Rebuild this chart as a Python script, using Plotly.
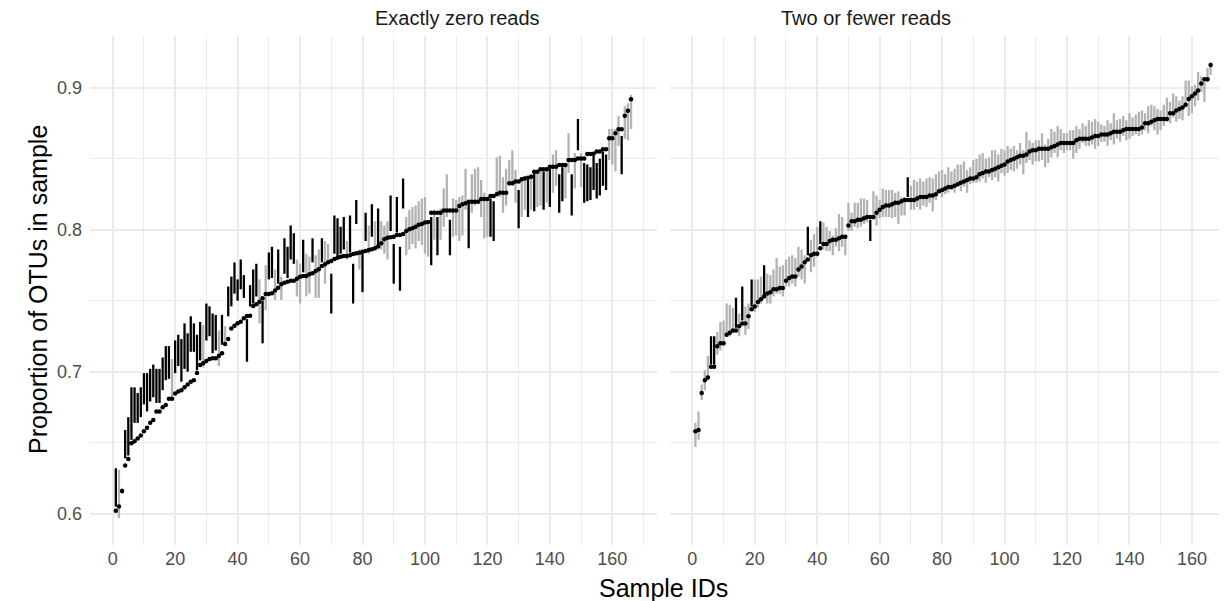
import plotly.graph_objects as go

sample_ids = list(range(1, 167))

panel_titles = ["Exactly zero reads", "Two or fewer reads"]

zero_point = [
    0.602, 0.605, 0.616, 0.634, 0.6385, 0.6496, 0.651, 0.653, 0.655, 0.658,
    0.6605, 0.664, 0.666, 0.672, 0.672, 0.675, 0.6765, 0.681, 0.681, 0.6846,
    0.686, 0.687, 0.689, 0.691, 0.693, 0.694, 0.699, 0.7047, 0.706, 0.7075,
    0.709, 0.7095, 0.7095, 0.711, 0.713, 0.7195, 0.723, 0.7305, 0.7324, 0.7341,
    0.7352, 0.7376, 0.7392, 0.7394, 0.7463, 0.7475, 0.7493, 0.7517, 0.7547, 0.7547,
    0.7552, 0.7571, 0.7592, 0.7615, 0.7627, 0.7634, 0.7641, 0.7641, 0.7655, 0.7669,
    0.7674, 0.7674, 0.7686, 0.7693, 0.7709, 0.7721, 0.7744, 0.7756, 0.777, 0.778,
    0.7794, 0.7803, 0.781, 0.7815, 0.7815, 0.782, 0.7829, 0.7834, 0.7838, 0.7845,
    0.785, 0.7857, 0.7862, 0.7869, 0.7881, 0.7904, 0.7932, 0.7944, 0.7946, 0.7951,
    0.7963, 0.7963, 0.797, 0.799, 0.8003, 0.801, 0.802, 0.8035, 0.804, 0.805,
    0.8055, 0.812, 0.812, 0.812, 0.812, 0.8135, 0.8135, 0.8135, 0.8135, 0.8135,
    0.8167, 0.818, 0.8186, 0.8197, 0.8197, 0.8197, 0.8197, 0.8216, 0.8216, 0.8216,
    0.8237, 0.8237, 0.825, 0.826, 0.826, 0.826, 0.8327, 0.8327, 0.8339, 0.834,
    0.8355, 0.836, 0.8365, 0.8373, 0.8408, 0.8408, 0.8425, 0.8425, 0.8425, 0.8444,
    0.8444, 0.8444, 0.8456, 0.8456, 0.8456, 0.849, 0.849, 0.849, 0.8502, 0.8502,
    0.8502, 0.8533, 0.8533, 0.8535, 0.855, 0.855, 0.8566, 0.8566, 0.8644, 0.8644,
    0.8679, 0.8707, 0.8707, 0.8803, 0.8838, 0.8918,
]
zero_lower = [
    0.605, 0.597, 0.614, 0.639, 0.641, 0.652, 0.664, 0.664, 0.668, 0.677,
    0.672, 0.679, 0.682, 0.678, 0.678, 0.687, 0.694, 0.695, 0.680, 0.699,
    0.704, 0.693, 0.702, 0.700, 0.714, 0.714, 0.701, 0.708, 0.703, 0.722,
    0.725, 0.713, 0.715, 0.704, 0.719, 0.718, 0.739, 0.746, 0.755, 0.750,
    0.758, 0.752, 0.707, 0.746, 0.748, 0.753, 0.734, 0.720, 0.7435, 0.765,
    0.766, 0.7505, 0.762, 0.7505, 0.769, 0.766, 0.779, 0.776, 0.753, 0.748,
    0.770, 0.753, 0.755, 0.777, 0.752, 0.752, 0.777, 0.762, 0.776, 0.741,
    0.783, 0.781, 0.783, 0.786, 0.779, 0.784, 0.748, 0.804, 0.772, 0.756,
    0.792, 0.783, 0.795, 0.786, 0.789, 0.786, 0.783, 0.779, 0.799, 0.762,
    0.798, 0.757, 0.815, 0.782, 0.786, 0.790, 0.787, 0.792, 0.789, 0.783,
    0.781, 0.775, 0.793, 0.782, 0.793, 0.802, 0.809, 0.782, 0.795, 0.796,
    0.792, 0.796, 0.814, 0.787, 0.812, 0.817, 0.819, 0.809, 0.794, 0.795,
    0.795, 0.792, 0.824, 0.823, 0.812, 0.817, 0.831, 0.831, 0.819, 0.801,
    0.809, 0.814, 0.809, 0.814, 0.813, 0.816, 0.817, 0.814, 0.819, 0.816,
    0.826, 0.831, 0.812, 0.820, 0.822, 0.840, 0.810, 0.829, 0.856, 0.830,
    0.819, 0.820, 0.821, 0.828, 0.822, 0.824, 0.831, 0.828, 0.849, 0.846,
    0.841, 0.859, 0.839, 0.864, 0.863, 0.871,
]
zero_upper = [
    0.632, 0.631, 0.618, 0.659, 0.668, 0.689, 0.689, 0.685, 0.689, 0.699,
    0.699, 0.702, 0.705, 0.702, 0.702, 0.710, 0.718, 0.718, 0.709, 0.722,
    0.726, 0.723, 0.734, 0.727, 0.739, 0.734, 0.726, 0.735, 0.733, 0.748,
    0.746, 0.741, 0.740, 0.729, 0.740, 0.732, 0.760, 0.767, 0.777, 0.765,
    0.779, 0.768, 0.737, 0.761, 0.772, 0.776, 0.765, 0.750, 0.775, 0.784,
    0.788, 0.772, 0.786, 0.767, 0.794, 0.788, 0.803, 0.7975, 0.779, 0.776,
    0.793, 0.783, 0.781, 0.794, 0.782, 0.786, 0.794, 0.792, 0.790, 0.769,
    0.810, 0.808, 0.802, 0.809, 0.792, 0.810, 0.776, 0.821, 0.786, 0.783,
    0.812, 0.803, 0.818, 0.806, 0.815, 0.806, 0.803, 0.806, 0.824, 0.790,
    0.823, 0.788, 0.836, 0.809, 0.814, 0.816, 0.817, 0.820, 0.822, 0.823,
    0.806, 0.809, 0.814, 0.809, 0.815, 0.829, 0.839, 0.807, 0.822, 0.821,
    0.823, 0.824, 0.843, 0.819, 0.839, 0.843, 0.844, 0.835, 0.826, 0.823,
    0.822, 0.820, 0.851, 0.852, 0.837, 0.843, 0.849, 0.856, 0.842, 0.828,
    0.837, 0.838, 0.835, 0.839, 0.840, 0.842, 0.843, 0.841, 0.844, 0.843,
    0.853, 0.856, 0.839, 0.844, 0.847, 0.868, 0.839, 0.854, 0.878, 0.854,
    0.847, 0.846, 0.844, 0.852, 0.847, 0.850, 0.855, 0.853, 0.871, 0.871,
    0.871, 0.880, 0.866, 0.887, 0.889, 0.895,
]

two_point = [
    0.658, 0.659, 0.685, 0.694, 0.696, 0.7035, 0.7035, 0.718, 0.720, 0.720,
    0.726, 0.7275, 0.729, 0.729, 0.732, 0.734, 0.734, 0.739, 0.744, 0.746,
    0.749, 0.751, 0.753, 0.755, 0.756, 0.758, 0.758, 0.759, 0.759, 0.764,
    0.766, 0.767, 0.767, 0.772, 0.774, 0.777, 0.779, 0.782, 0.783, 0.783,
    0.787, 0.790, 0.790, 0.792, 0.793, 0.793, 0.794, 0.795, 0.795, 0.803,
    0.806, 0.806, 0.807, 0.807, 0.808, 0.809, 0.809, 0.809, 0.812, 0.814,
    0.816, 0.817, 0.817, 0.818, 0.819, 0.819, 0.820, 0.821, 0.821, 0.821,
    0.821, 0.822, 0.823, 0.823, 0.823, 0.824, 0.824, 0.825, 0.827, 0.828,
    0.829, 0.830, 0.830, 0.831, 0.832, 0.833, 0.834, 0.835, 0.836, 0.836,
    0.837, 0.839, 0.840, 0.841, 0.841, 0.842, 0.843, 0.844, 0.845, 0.846,
    0.848, 0.849, 0.850, 0.851, 0.852, 0.852, 0.853, 0.855, 0.856, 0.856,
    0.857, 0.857, 0.857, 0.857, 0.858, 0.859, 0.860, 0.861, 0.861, 0.861,
    0.861, 0.861, 0.863, 0.864, 0.864, 0.864, 0.864, 0.865, 0.866, 0.866,
    0.867, 0.867, 0.867, 0.868, 0.869, 0.869, 0.869, 0.870, 0.871, 0.871,
    0.871, 0.871, 0.871, 0.872, 0.875, 0.875, 0.876, 0.877, 0.878, 0.878,
    0.878, 0.878, 0.882, 0.882, 0.884, 0.885, 0.886, 0.888, 0.892, 0.894,
    0.896, 0.898, 0.903, 0.906, 0.906, 0.916,
]
two_lower = [
    0.647, 0.652, 0.680, 0.687, 0.694, 0.705, 0.705, 0.712, 0.715, 0.718,
    0.725, 0.725, 0.727, 0.731, 0.725, 0.736, 0.726, 0.730, 0.746, 0.742,
    0.745, 0.748, 0.754, 0.748, 0.748, 0.753, 0.755, 0.755, 0.753, 0.760,
    0.760, 0.762, 0.760, 0.767, 0.765, 0.762, 0.782, 0.770, 0.774, 0.781,
    0.790, 0.786, 0.785, 0.785, 0.782, 0.788, 0.785, 0.788, 0.782, 0.799,
    0.799, 0.802, 0.801, 0.802, 0.804, 0.805, 0.792, 0.807, 0.803, 0.808,
    0.809, 0.809, 0.809, 0.808, 0.809, 0.804, 0.810, 0.810, 0.823, 0.814,
    0.814, 0.816, 0.814, 0.817, 0.816, 0.819, 0.813, 0.821, 0.826, 0.823,
    0.825, 0.826, 0.828, 0.826, 0.830, 0.827, 0.830, 0.826, 0.832, 0.833,
    0.833, 0.834, 0.836, 0.833, 0.837, 0.835, 0.837, 0.834, 0.840, 0.838,
    0.840, 0.842, 0.841, 0.843, 0.846, 0.839, 0.847, 0.849, 0.846, 0.848,
    0.848, 0.849, 0.844, 0.847, 0.851, 0.854, 0.851, 0.856, 0.854, 0.856,
    0.856, 0.850, 0.854, 0.857, 0.861, 0.859, 0.859, 0.860, 0.857, 0.859,
    0.862, 0.862, 0.859, 0.863, 0.860, 0.864, 0.862, 0.866, 0.863, 0.864,
    0.866, 0.867, 0.866, 0.867, 0.870, 0.868, 0.873, 0.870, 0.867, 0.870,
    0.873, 0.876, 0.875, 0.879, 0.876, 0.878, 0.877, 0.886, 0.880, 0.882,
    0.887, 0.891, 0.897, 0.890, 0.904, 0.909,
]
two_upper = [
    0.664, 0.672, 0.691, 0.701, 0.711, 0.725, 0.725, 0.728, 0.735, 0.736,
    0.748, 0.747, 0.745, 0.752, 0.741, 0.760, 0.746, 0.748, 0.765, 0.765,
    0.765, 0.767, 0.775, 0.769, 0.768, 0.772, 0.780, 0.774, 0.775, 0.779,
    0.781, 0.782, 0.780, 0.788, 0.786, 0.782, 0.802, 0.793, 0.797, 0.802,
    0.806, 0.805, 0.802, 0.799, 0.796, 0.801, 0.811, 0.809, 0.796, 0.819,
    0.812, 0.819, 0.819, 0.822, 0.822, 0.821, 0.807, 0.827, 0.824, 0.821,
    0.829, 0.828, 0.828, 0.828, 0.826, 0.827, 0.823, 0.823, 0.837, 0.831,
    0.835, 0.834, 0.836, 0.834, 0.836, 0.837, 0.836, 0.839, 0.841, 0.842,
    0.839, 0.844, 0.841, 0.843, 0.846, 0.846, 0.848, 0.842, 0.844, 0.849,
    0.850, 0.853, 0.854, 0.850, 0.851, 0.856, 0.856, 0.853, 0.857, 0.856,
    0.859, 0.857, 0.859, 0.856, 0.861, 0.856, 0.869, 0.863, 0.861, 0.863,
    0.863, 0.868, 0.860, 0.864, 0.871, 0.869, 0.873, 0.871, 0.868, 0.868,
    0.870, 0.870, 0.873, 0.871, 0.875, 0.873, 0.877, 0.876, 0.878, 0.876,
    0.874, 0.873, 0.877, 0.875, 0.882, 0.877, 0.878, 0.880, 0.877, 0.882,
    0.879, 0.881, 0.883, 0.884, 0.882, 0.887, 0.888, 0.887, 0.885, 0.884,
    0.888, 0.893, 0.890, 0.896, 0.894, 0.891, 0.894, 0.905, 0.905, 0.901,
    0.902, 0.911, 0.908, 0.907, 0.914, 0.918,
]

# The page body has an 8px margin; the figure is sized so it fills the window.
OFF = 8
W, H = 1227 - OFF, 601 - OFF
FONT = "Liberation Sans, Arial, Helvetica, sans-serif"
GREY = "#b3b3b3"
GRID = "#ebebeb"

fig = go.Figure()

panels = [
    (zero_point, zero_lower, zero_upper, "x", "y"),
    (two_point, two_lower, two_upper, "x2", "y2"),
]
for pts, lo, hi, xa, ya in panels:
    gx, gy, bx, by = [], [], [], []
    for s, p, l, h in zip(sample_ids, pts, lo, hi):
        if p < l or p > h:
            bx += [s, s, None]
            by += [l, h, None]
        else:
            gx += [s, s, None]
            gy += [l, h, None]
    fig.add_trace(go.Scatter(x=gx, y=gy, mode="lines", xaxis=xa, yaxis=ya,
                             line=dict(color=GREY, width=2.3), showlegend=False,
                             hoverinfo="skip"))
    fig.add_trace(go.Scatter(x=bx, y=by, mode="lines", xaxis=xa, yaxis=ya,
                             line=dict(color="#000000", width=2.3), showlegend=False,
                             hoverinfo="skip"))
    fig.add_trace(go.Scatter(x=sample_ids, y=pts, mode="markers", xaxis=xa, yaxis=ya,
                             marker=dict(color="#000000", size=4.5, line=dict(width=0)),
                             showlegend=False))

# pixel geometry in window coordinates, converted to figure coordinates
left_l, left_r = 90.0 - OFF, 656.8 - OFF
right_l, right_r = 669.7 - OFF, 1227.0 - OFF
right_full = 1236.3 - OFF
top_px, bot_px = 36.0 - OFF, 544.5 - OFF
x0_left, x0_right, upx = 112.7 - OFF, 692.3 - OFF, 3.1225
y09_px, ypu = 87.7 - OFF, 1420.0

def xr(x0, l, r):
    return [(l - x0) / upx, (r - x0) / upx]

yrange = [0.9 - (bot_px - y09_px) / ypu, 0.9 + (y09_px - top_px) / ypu]

TICKFONT = dict(family=FONT, size=18, color="#4d4d4d")

xcommon = dict(
    tick0=0, dtick=20, showgrid=True, gridcolor=GRID, gridwidth=1.9,
    minor=dict(dtick=10, showgrid=True, gridcolor=GRID, gridwidth=0.95),
    zeroline=False, showline=False, ticks="", ticklabelstandoff=1,
    tickfont=TICKFONT, automargin=False, fixedrange=True,
)
ycommon = dict(
    tick0=0.6, dtick=0.1, tickformat=".1f", showgrid=True, gridcolor=GRID, gridwidth=1.9,
    minor=dict(dtick=0.05, showgrid=True, gridcolor=GRID, gridwidth=0.95),
    zeroline=False, showline=False, ticks="", ticklabelstandoff=7,
    tickfont=TICKFONT, automargin=False, range=yrange,
    domain=[(H - bot_px) / H, (H - top_px) / H],
)

fig.update_layout(
    width=W, height=H, autosize=False,
    margin=dict(l=0, r=0, t=0, b=0),
    paper_bgcolor="white", plot_bgcolor="white",
    xaxis=dict(xcommon, domain=[left_l / W, left_r / W],
               range=xr(x0_left, left_l, left_r), anchor="y"),
    xaxis2=dict(xcommon, domain=[right_l / W, right_r / W],
                range=xr(x0_right, right_l, right_r), anchor="y2"),
    yaxis=dict(ycommon, anchor="x"),
    yaxis2=dict(ycommon, anchor="x2", matches="y", showticklabels=False),
    font=dict(family=FONT),
    annotations=[
        dict(text=panel_titles[0], x=(left_l + left_r) / 2 / W, y=(H - (18 - OFF)) / H,
             xref="paper", yref="paper", showarrow=False, yanchor="middle",
             font=dict(family=FONT, size=20, color="#1a1a1a")),
        dict(text=panel_titles[1], x=(right_l + right_full) / 2 / W, y=(H - (18 - OFF)) / H,
             xref="paper", yref="paper", showarrow=False, yanchor="middle",
             font=dict(family=FONT, size=20, color="#1a1a1a")),
        dict(text="Sample IDs", x=(663 - OFF) / W, y=(H - (588 - OFF)) / H,
             xref="paper", yref="paper", showarrow=False, yanchor="middle",
             font=dict(family=FONT, size=25, color="#000000")),
        dict(text="Proportion of OTUs in sample", x=(22 - OFF) / W, y=(H - (290 - OFF)) / H,
             xref="paper", yref="paper", showarrow=False, textangle=-90,
             font=dict(family=FONT, size=25, color="#000000")),
    ],
)

fig.write_html("out.html")
